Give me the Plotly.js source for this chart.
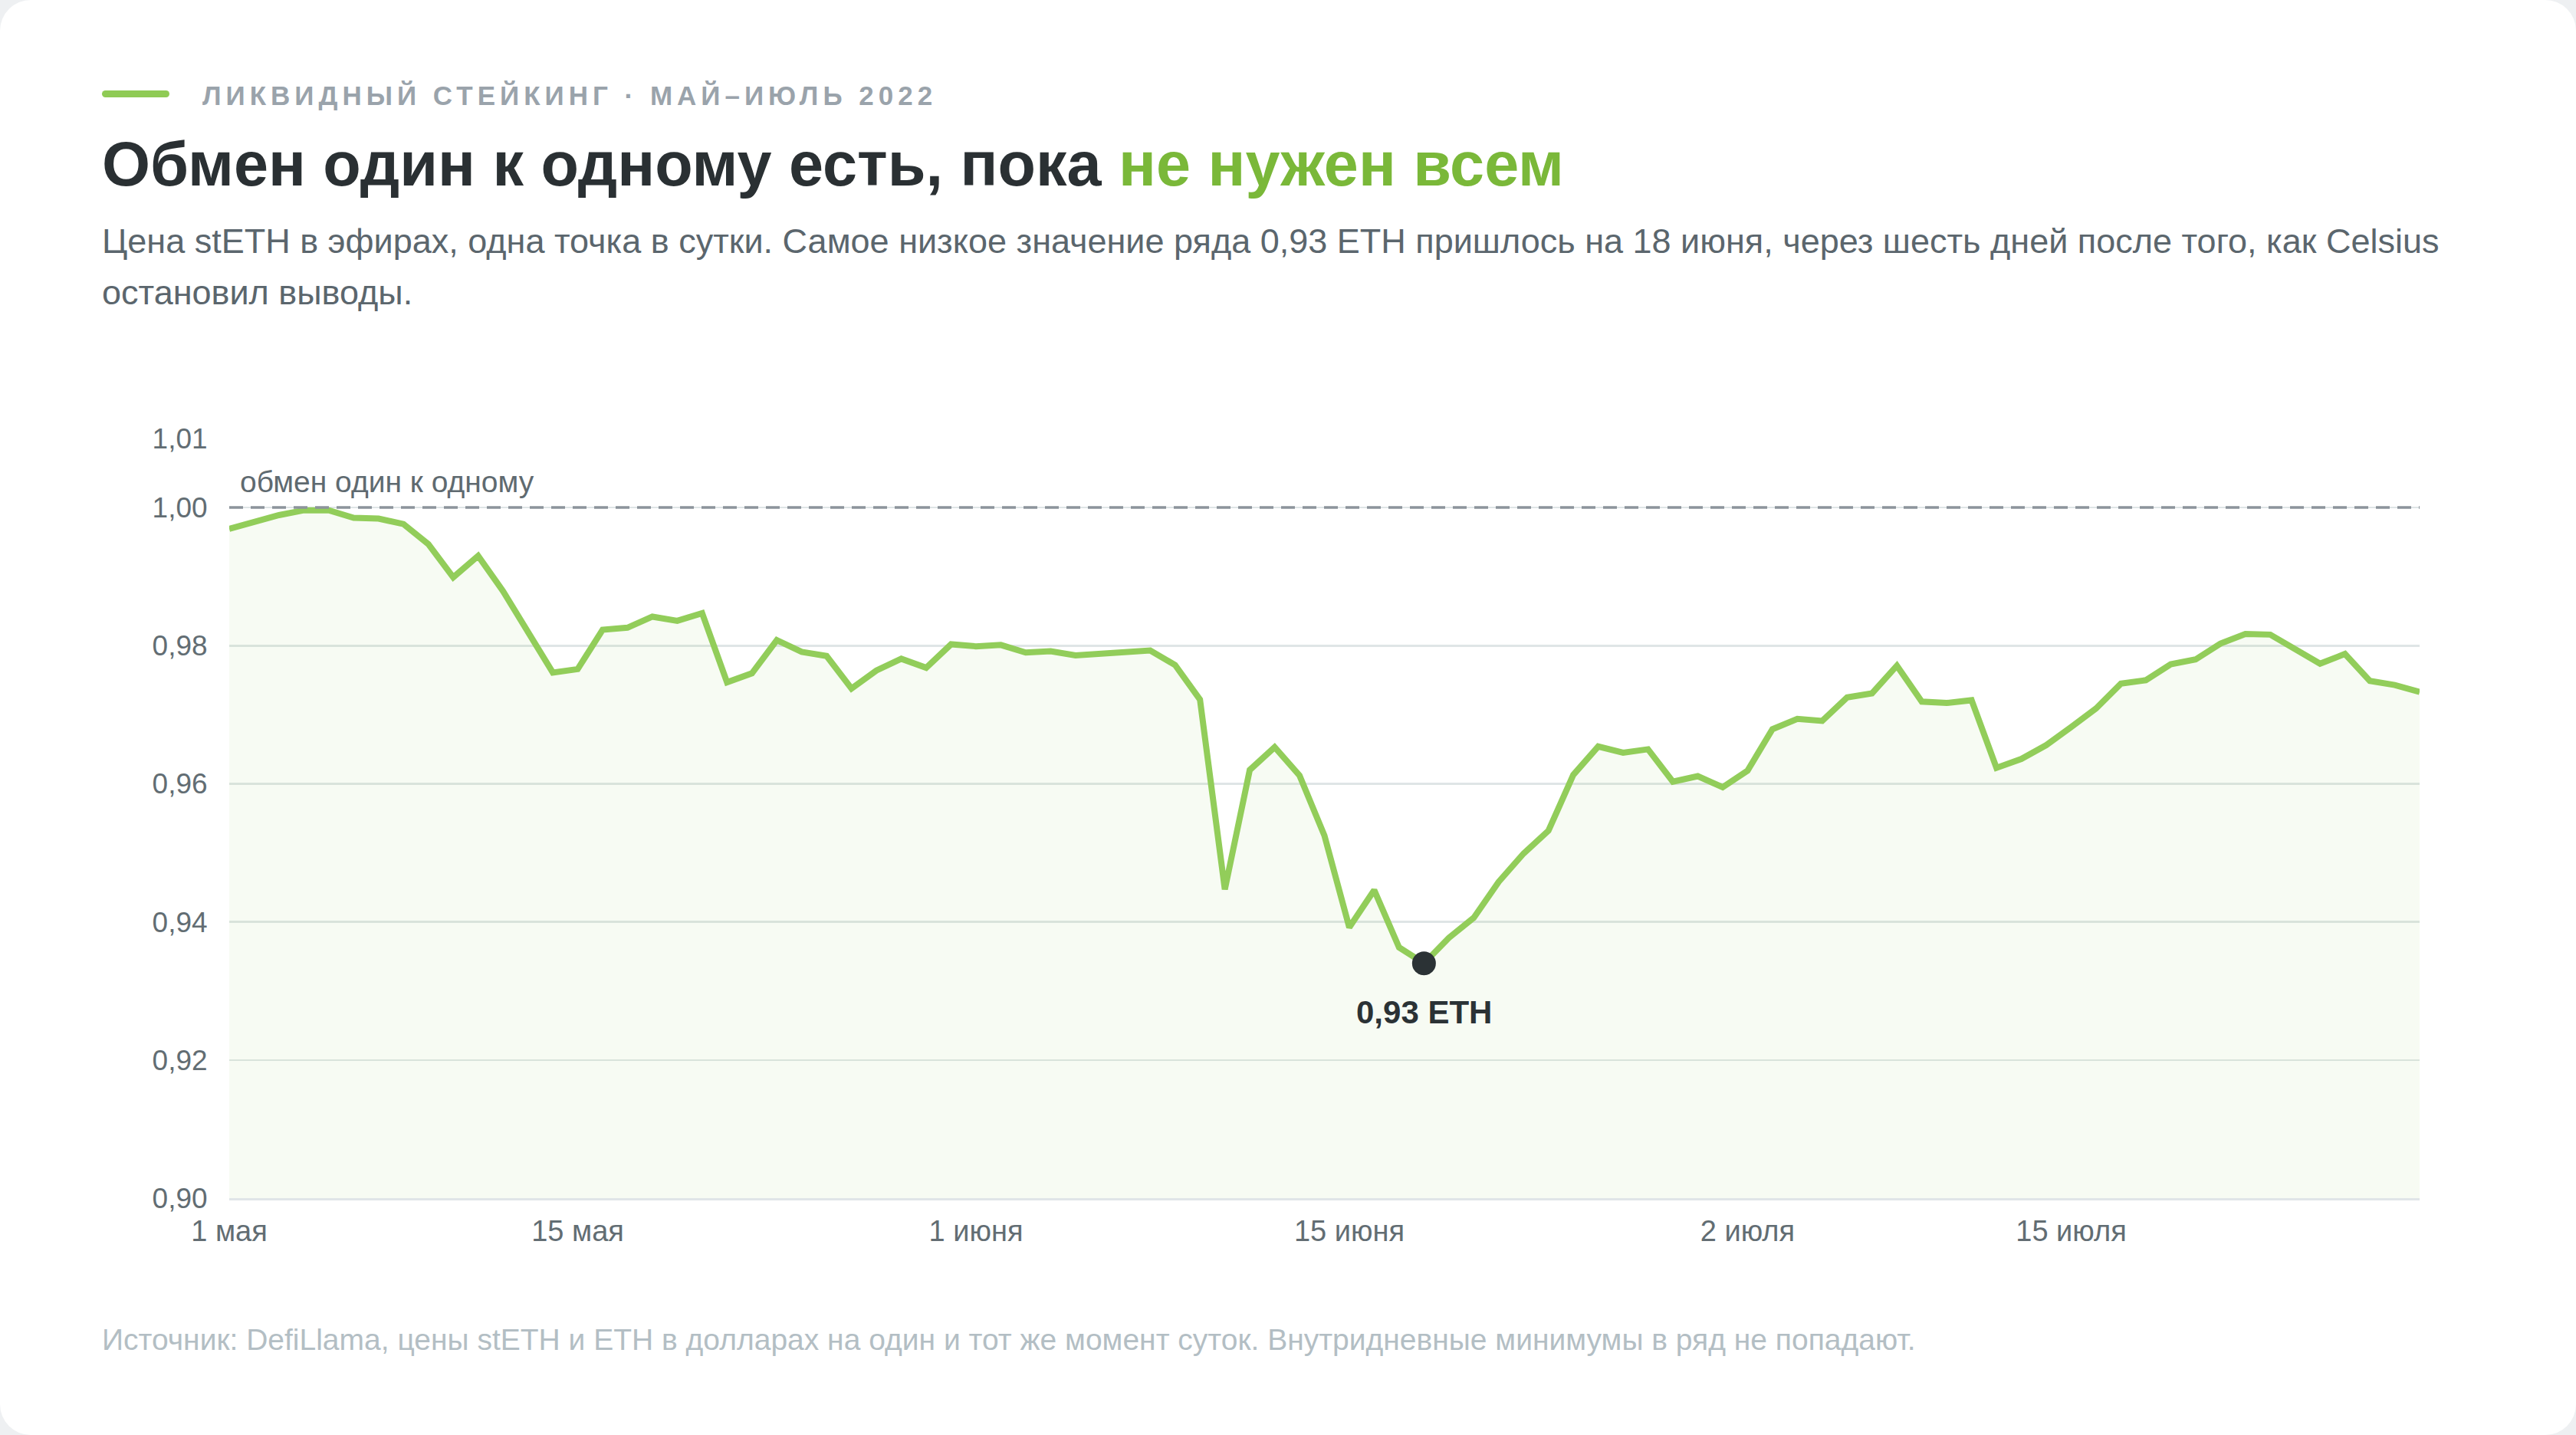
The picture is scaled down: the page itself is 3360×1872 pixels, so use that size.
<!DOCTYPE html>
<html lang="ru">
<head>
<meta charset="utf-8">
<script src="https://cdn.plot.ly/plotly-3.0.1.min.js"></script>
<style>
  html, body { margin:0; padding:0; width:3360px; height:1872px; background:#eef0f2; overflow:hidden; }
  #card { position:absolute; left:0; top:0; width:3360px; height:1872px; background:#ffffff; border-radius:40px; }
  .t { position:absolute; font-family:"Liberation Sans", Arial, sans-serif; white-space:nowrap; }
  #kbar { position:absolute; left:133px; top:118px; width:88px; height:9px; border-radius:5px; background:#8fcb55; }
  #kicker { left:264px; top:107px; font-size:35px; line-height:1; font-weight:700; color:#9aa3ab; letter-spacing:6px; }
  #title { left:133px; top:174px; font-size:81px; line-height:1; font-weight:700; color:#2a3033; }
  #title span { color:#7ab839; }
  #sub { left:133px; top:281px; width:3120px; white-space:normal; font-size:45px; line-height:67px; color:#5b666d; }
  #foot { left:133px; top:1728px; font-size:39px; line-height:1; color:#b3bec4; }
  #chart { position:absolute; left:0; top:0; width:3360px; height:1872px; }
</style>
</head>
<body>
<div id="card"></div>
<div id="kbar"></div>
<div class="t" id="kicker">ЛИКВИДНЫЙ СТЕЙКИНГ · МАЙ–ИЮЛЬ 2022</div>
<div class="t" id="title">Обмен один к одному есть, пока <span>не нужен всем</span></div>
<div class="t" id="sub">Цена stETH в эфирах, одна точка в сутки. Самое низкое значение ряда 0,93 ETH пришлось на 18 июня, через шесть дней после того, как Celsius остановил выводы.</div>
<div id="chart"></div>
<div class="t" id="foot">Источник: DefiLlama, цены stETH и ETH в долларах на один и тот же момент суток. Внутридневные минимумы в ряд не попадают.</div>
<script>
// Daily stETH/ETH price, day 0 = 1 May 2022
const stethEth = [
  0.9969, 0.9979, 0.9989, 0.9996, 0.9996, 0.9985, 0.9984, 0.9976, 0.9947, 0.9899,
  0.9930, 0.9879, 0.9818, 0.9761, 0.9766, 0.9823, 0.9826, 0.9842, 0.9836, 0.9847,
  0.9747, 0.9760, 0.9808, 0.9791, 0.9785, 0.9738, 0.9764, 0.9781, 0.9768, 0.9802,
  0.9799, 0.9801, 0.9790, 0.9792, 0.9786, 0.9789, 0.9790, 0.9793, 0.9772, 0.9722,
  0.9447, 0.9620, 0.9653, 0.9612, 0.9525, 0.9392, 0.9446, 0.9363, 0.9340, 0.9377,
  0.9406, 0.9458, 0.9499, 0.9532, 0.9613, 0.9654, 0.9645, 0.9650, 0.9603, 0.9611,
  0.9595, 0.9619, 0.9679, 0.9694, 0.9691, 0.9725, 0.9731, 0.9771, 0.9719, 0.9717,
  0.9721, 0.9623, 0.9636, 0.9656, 0.9682, 0.9709, 0.9745, 0.9750, 0.9773, 0.9780,
  0.9803, 0.9817, 0.9816, 0.9794, 0.9774, 0.9788, 0.9749, 0.9743, 0.9733
];
const dayIndex = stethEth.map((_, i) => i);

const xTickDays   = [0, 14, 30, 45, 61, 74];
const xTickLabels = ['1 мая', '15 мая', '1 июня', '15 июня', '2 июля', '15 июля'];

const yTickVals   = [0.90, 0.92, 0.94, 0.96, 0.98, 1.00, 1.01];
const yTickLabels = ['0,90', '0,92', '0,94', '0,96', '0,98', '1,00', '1,01'];

const parityValue = 1.00;
const parityLabel = 'обмен один к одному';

let minIdx = 0;
stethEth.forEach((v, i) => { if (v < stethEth[minIdx]) minIdx = i; });
const minLabel = stethEth[minIdx].toFixed(2).replace('.', ',') + ' ETH';

const FONT = '"Liberation Sans", Arial, sans-serif';

const traces = [
  {
    x: dayIndex, y: stethEth, type: 'scatter', mode: 'lines',
    line: { color: '#92cd5a', width: 8 },
    fill: 'tozeroy', fillcolor: 'rgba(146,205,90,0.075)',
    hoverinfo: 'skip'
  },
  {
    x: [dayIndex[minIdx]], y: [stethEth[minIdx]], type: 'scatter', mode: 'markers',
    marker: { color: '#2b3235', size: 31 },
    hoverinfo: 'skip'
  }
];

const layout = {
  width: 3360, height: 1872,
  margin: { l: 299, r: 204, t: 572, b: 309 },
  paper_bgcolor: 'rgba(0,0,0,0)',
  plot_bgcolor: 'rgba(0,0,0,0)',
  showlegend: false,
  font: { family: FONT, color: '#626d73', size: 36 },
  xaxis: {
    range: [0, dayIndex[dayIndex.length - 1]],
    tickmode: 'array', tickvals: xTickDays, ticktext: xTickLabels,
    showgrid: false, zeroline: false,
    showline: true, linecolor: '#e0e5e8', linewidth: 3,
    ticks: 'outside', ticklen: 7, tickcolor: 'rgba(0,0,0,0)',
    tickfont: { family: FONT, size: 38, color: '#626d73' },
    fixedrange: true
  },
  yaxis: {
    range: [0.90, 1.01],
    tickmode: 'array', tickvals: yTickVals, ticktext: yTickLabels,
    showgrid: true, gridcolor: '#dfe5e6', gridwidth: 2.5,
    zeroline: false, showline: false,
    ticks: 'outside', ticklen: 20, tickcolor: 'rgba(0,0,0,0)',
    tickfont: { family: FONT, size: 37, color: '#626d73' },
    fixedrange: true
  },
  shapes: [
    {
      type: 'line', xref: 'paper', x0: 0, x1: 1, yref: 'y', y0: parityValue, y1: parityValue,
      line: { color: '#8c949b', width: 3.5, dash: '18px,10px' }, layer: 'above'
    }
  ],
  annotations: [
    {
      xref: 'paper', x: 0, xanchor: 'left', xshift: 12,
      yref: 'y', y: parityValue, yanchor: 'bottom', yshift: 10,
      text: parityLabel, showarrow: false,
      font: { family: FONT, size: 39, color: '#5f6a70' }
    },
    {
      xref: 'x', x: dayIndex[minIdx], xanchor: 'center',
      yref: 'y', y: stethEth[minIdx], yanchor: 'top', yshift: -38,
      text: '<b>' + minLabel + '</b>', showarrow: false,
      font: { family: FONT, size: 42, color: '#2b3235' }
    }
  ]
};

Plotly.newPlot('chart', traces, layout, { staticPlot: true, displayModeBar: false });
</script>
</body>
</html>
